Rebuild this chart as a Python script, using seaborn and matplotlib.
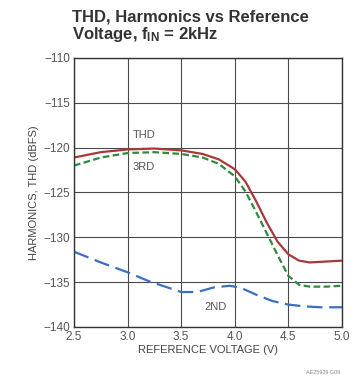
import matplotlib
matplotlib.use("Agg")
import matplotlib.pyplot as plt
import seaborn as sns
import pandas as pd
from matplotlib import font_manager

# Data
thd_v = [2.5, 2.75, 3.0, 3.25, 3.5, 3.7, 3.85, 4.0, 4.1, 4.2, 4.3, 4.4, 4.5, 4.6, 4.7, 4.85, 5.0]
thd_db = [-121.1, -120.5, -120.2, -120.1, -120.3, -120.7, -121.3, -122.4, -123.8, -126.0, -128.4, -130.5, -131.9, -132.6, -132.8, -132.7, -132.6]

rd3_v = [2.5, 2.75, 3.0, 3.25, 3.5, 3.7, 3.85, 4.0, 4.1, 4.2, 4.3, 4.4, 4.5, 4.6, 4.7, 4.85, 5.0]
rd3_db = [-122.0, -121.1, -120.6, -120.5, -120.7, -121.1, -121.8, -123.2, -124.9, -127.2, -129.6, -132.0, -134.3, -135.3, -135.5, -135.5, -135.4]

nd2_v = [2.5, 2.75, 3.0, 3.2, 3.35, 3.5, 3.65, 3.8, 3.95, 4.05, 4.2, 4.35, 4.5, 4.65, 4.8, 5.0]
nd2_db = [-131.6, -132.8, -133.9, -134.9, -135.5, -136.1, -136.1, -135.6, -135.4, -135.6, -136.4, -137.1, -137.5, -137.7, -137.8, -137.8]

x_ticks = [2.5, 3.0, 3.5, 4.0, 4.5, 5.0]
y_ticks = [-140, -135, -130, -125, -120, -115, -110]

df = pd.concat([
    pd.DataFrame({"v": thd_v, "db": thd_db, "s": "THD"}),
    pd.DataFrame({"v": rd3_v, "db": rd3_db, "s": "3RD"}),
    pd.DataFrame({"v": nd2_v, "db": nd2_db, "s": "2ND"}),
])

sns.set_theme(style="white")
fams = [f.name for f in font_manager.fontManager.ttflist]
narrow = "Liberation Sans Narrow" if "Liberation Sans Narrow" in fams else "Liberation Sans"
plt.rcParams["font.family"] = [narrow, "DejaVu Sans"]
plt.rcParams["mathtext.fontset"] = "custom"
plt.rcParams["mathtext.rm"] = narrow
plt.rcParams["mathtext.bf"] = narrow + ":bold"

fig = plt.figure(figsize=(3.59, 3.83), dpi=100)
ax = fig.add_axes([74 / 359, 1 - 327 / 383, (342 - 74) / 359, (327 - 58) / 383])

palette = {"THD": "#a8383a", "3RD": "#2f8a3c", "2ND": "#3a70c4"}
sns.lineplot(data=df, x="v", y="db", hue="s", palette=palette, ax=ax,
             legend=False, linewidth=1.6, sort=False)
for line, key in zip(ax.get_lines(), ["THD", "3RD", "2ND"]):
    if key == "3RD":
        line.set_dashes([3, 1.5])
    elif key == "2ND":
        line.set_dashes([7, 3])

ax.set_xlim(2.5, 5.0)
ax.set_ylim(-140, -110)
ax.set_xticks(x_ticks)
ax.set_yticks(y_ticks)
ax.set_xticklabels([f"{t:.1f}" for t in x_ticks])
ax.set_yticklabels([f"\u2212{abs(t)}" for t in y_ticks])
ax.grid(True, color="#4a4a4a", linewidth=0.8)
for sp in ax.spines.values():
    sp.set_color("#333333")
    sp.set_linewidth(1.0)
ax.tick_params(axis="both", labelsize=8.5, colors="#555555", length=0, pad=3)
ax.set_xlabel("REFERENCE VOLTAGE (V)", fontsize=8, color="#444444", labelpad=1)
ax.set_ylabel("HARMONICS, THD (dBFS)", fontsize=8, color="#444444", labelpad=3)

ax.text(3.05, -118.6, "THD", fontsize=8, color="#555555", ha="left", va="center")
ax.text(3.05, -122.2, "3RD", fontsize=8, color="#555555", ha="left", va="center")
ax.text(3.72, -137.8, "2ND", fontsize=8, color="#555555", ha="left", va="center")

fig.text(72 / 359, 1 - 9 / 383,
         "THD, Harmonics vs Reference\nVoltage, $\\mathbf{f_{IN}}$ = 2kHz",
         fontsize=12, fontweight="bold", color="#333333", ha="left", va="top",
         linespacing=1.05)
fig.text(340 / 359, 1 - 372 / 383, "AE25929 G09", fontsize=4, color="#888888",
         ha="right", va="center")

fig.savefig("out.png", dpi=100)
